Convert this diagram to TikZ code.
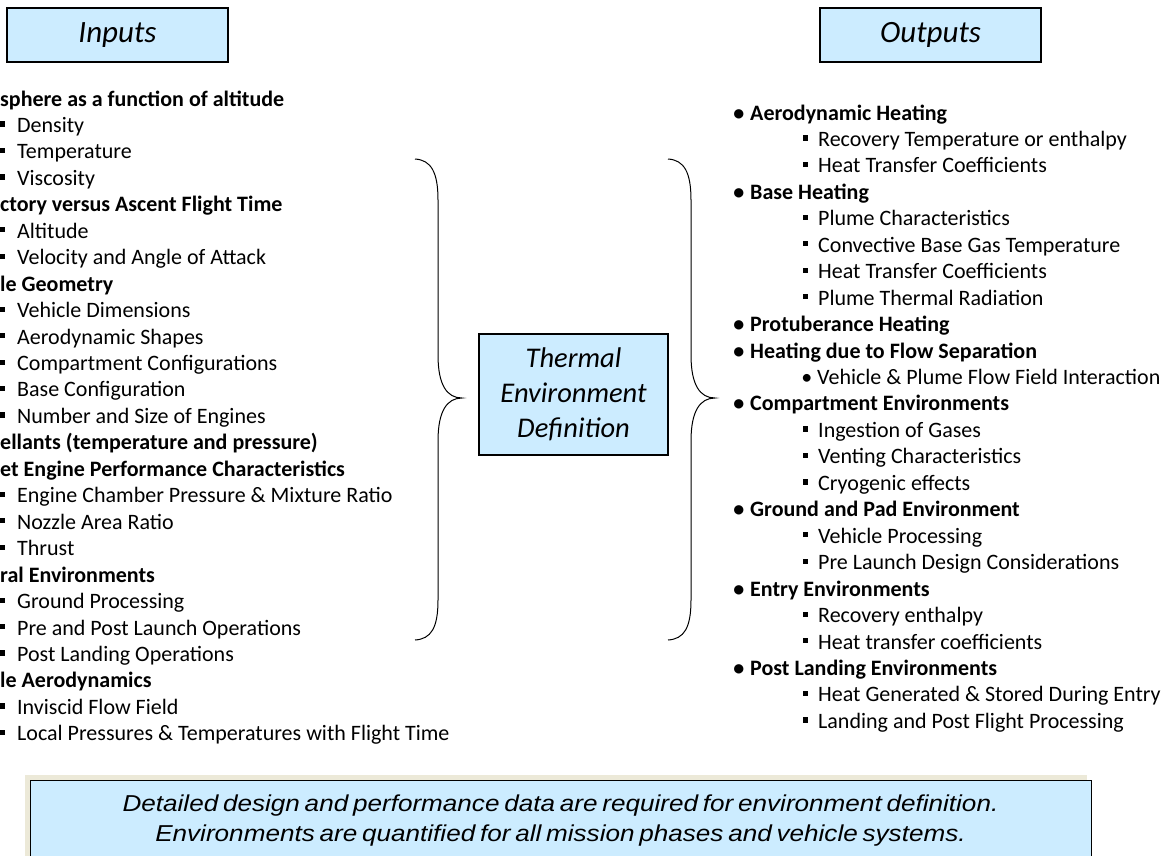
\documentclass[tikz,border=0pt]{standalone}
\usepackage{fontspec}
\setmainfont{Carlito}
\newfontfamily\arialfont{Liberation Sans}
\definecolor{boxblue}{RGB}{204,236,255}
\definecolor{framebeige}{RGB}{236,233,216}
\newcommand{\sqbul}{\raisebox{5.8pt}{\rule{5.2pt}{5.2pt}}}
\newcommand{\notetext}[1]{\scalebox{1.135}[1]{\spaceskip=4.2pt plus 0.5pt\relax #1}}
\tikzset{
  txt/.style={anchor=base west, inner sep=0pt, font=\fontsize{22}{25}\selectfont},
  lH/.style={txt, font=\fontsize{22}{25}\selectfont\bfseries},
  lS/.style={txt, xshift=17pt, execute at begin node={\llap{\sqbul\hspace{12pt}}}},
  rB/.style={txt, font=\fontsize{22}{25}\selectfont\bfseries, xshift=750pt, execute at begin node={\llap{\textbullet\hspace{6pt}}}},
  rS/.style={txt, xshift=818pt, execute at begin node={\llap{\sqbul\hspace{10.5pt}}}},
  rD/.style={txt, xshift=817pt, execute at begin node={\llap{\textbullet\hspace{5pt}}}},
  titlebox/.style={draw=black, line width=2pt, fill=boxblue, inner sep=0pt, font=\fontsize{31}{34}\selectfont\itshape},
  notefont/.style={anchor=base, inner sep=0pt, font=\arialfont\itshape\fontsize{23}{30}\selectfont},
  brace/.style={draw=black, line width=1pt},
}
\begin{document}
\begin{tikzpicture}[x=1pt, y=-1pt]
\useasboundingbox (0,0) rectangle (1170,855);
% title boxes
\node[titlebox, minimum width=221pt, minimum height=54pt] (inputs) at (117.5,35) {Inputs};
\node[titlebox, minimum width=221pt, minimum height=54pt] (outputs) at (930.5,35) {Outputs};
\node[titlebox, minimum width=189pt, minimum height=121pt, align=center, font=\fontsize{28.5}{35}\selectfont\itshape] (thermal) at (573.5,394.5) {Thermal\\Environment\\Definition};
% left column
\foreach \k/\t [count=\i from 0] in {
  H/sphere as a function of altitude, S/Density, S/Temperature, S/Viscosity,
  H/ctory versus Ascent Flight Time, S/Altitude, S/Velocity and Angle of Attack,
  H/le Geometry, S/Vehicle Dimensions, S/Aerodynamic Shapes, S/Compartment Configurations,
  S/Base Configuration, S/Number and Size of Engines,
  H/ellants (temperature and pressure), H/et Engine Performance Characteristics,
  S/Engine Chamber Pressure \& Mixture Ratio, S/Nozzle Area Ratio, S/Thrust,
  H/ral Environments, S/Ground Processing, S/Pre and Post Launch Operations,
  S/Post Landing Operations, H/le Aerodynamics, S/Inviscid Flow Field,
  S/Local Pressures \& Temperatures with Flight Time}
  \node[l\k] (L\i) at (0,{106+26.45*\i}) {\t};
% right column
\foreach \k/\t [count=\i from 0] in {
  B/Aerodynamic Heating, S/Recovery Temperature or enthalpy, S/Heat Transfer Coefficients,
  B/Base Heating, S/Plume Characteristics, S/Convective Base Gas Temperature,
  S/Heat Transfer Coefficients, S/Plume Thermal Radiation,
  B/Protuberance Heating, B/Heating due to Flow Separation,
  D/Vehicle \& Plume Flow Field Interaction,
  B/Compartment Environments, S/Ingestion of Gases, S/Venting Characteristics, S/Cryogenic effects,
  B/Ground and Pad Environment, S/Vehicle Processing, S/Pre Launch Design Considerations,
  B/Entry Environments, S/Recovery enthalpy, S/Heat transfer coefficients,
  B/Post Landing Environments, S/Heat Generated \& Stored During Entry,
  S/Landing and Post Flight Processing}
  \node[r\k] (R\i) at (0,{120+26.45*\i}) {\t};
% braces
\draw[brace] (415,159) .. controls (431,160) and (438,172) .. (438,200) -- (438,355)
  .. controls (438,385) and (447,398) .. (462,398)
  .. controls (447,398) and (438,411) .. (438,441) -- (438,600)
  .. controls (438,628) and (431,639) .. (415,640);
\draw[brace] (668,159) .. controls (684,160) and (691,172) .. (691,200) -- (691,355)
  .. controls (691,385) and (700,398) .. (715,398)
  .. controls (700,398) and (691,411) .. (691,441) -- (691,600)
  .. controls (691,628) and (684,639) .. (668,640);
% bottom note
\fill[framebeige] (25,775) rectangle (1087,870);
\draw[fill=boxblue, draw=black, line width=1pt] (30,780) rectangle (1091,870);
\node[notefont] (note1) at (560.5,811.7) {\notetext{Detailed design and performance data are required for environment definition.}};
\node[notefont] (note2) at (560.5,841.7) {\notetext{Environments are quantified for all mission phases and vehicle systems.}};
\end{tikzpicture}
\end{document}
